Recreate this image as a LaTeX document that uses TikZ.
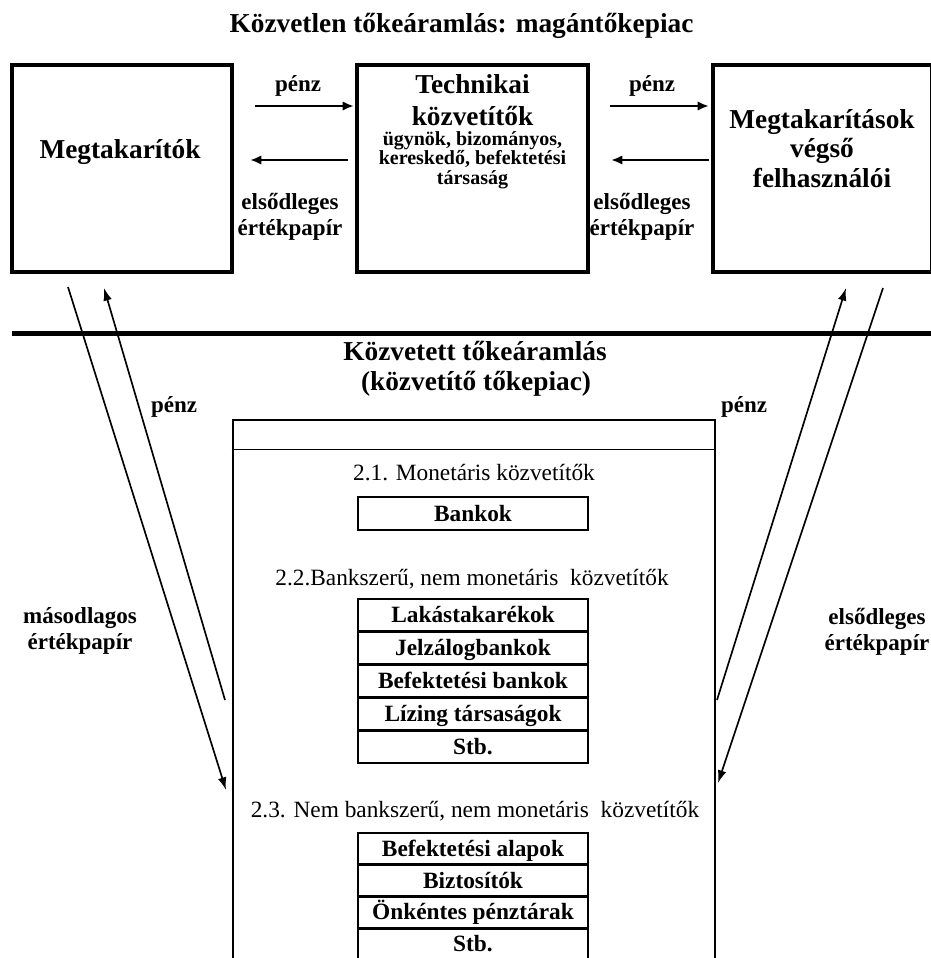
\documentclass[tikz,border=0pt]{standalone}
\usepackage{fontspec}
\setmainfont{Liberation Serif}
\usetikzlibrary{arrows.meta}
\begin{document}
\begin{tikzpicture}[x=0.75pt,y=-0.75pt,
  bigtxt/.style={font=\fontsize{20.5}{24}\selectfont\bfseries, inner sep=0pt, anchor=base},
  lbl/.style={font=\fontsize{17.25}{20}\selectfont\bfseries, inner sep=0pt, anchor=base},
  subtxt/.style={font=\fontsize{15}{18}\selectfont\bfseries, inner sep=0pt, anchor=base},
  head/.style={font=\fontsize{17.5}{21}\selectfont, inner sep=0pt, anchor=base},
  topbox/.style={draw, line width=2.5pt, inner sep=0pt, minimum height=155.25pt},
  cell/.style={draw, line width=2.2pt, minimum width=172.5pt, inner sep=0pt,
    font=\fontsize{17.5}{21}\selectfont\bfseries, text height=15pt, text depth=3.75pt},
  harrow/.style={line width=1.7pt, -{Latex[length=8.5pt,width=7pt]}},
  darrow/.style={line width=1.25pt, -{Latex[length=9.5pt,width=6.5pt]}}]
\path[use as bounding box] (0,0) rectangle (931,958);
\clip (0,0) rectangle (931,958);

% title
\node[bigtxt] (title) at (461.5,32) {Közvetlen tőkeáramlás: magántőkepiac};

% top boxes
\node[topbox, minimum width=165pt] (megt) at (122,168.5) {};
\node[topbox, minimum width=173.25pt] (tech) at (472.5,168.5) {};
\node[topbox, minimum width=164.25pt] (vegs) at (822.5,168.5) {};

\node[bigtxt] (megtT) at (120,158) {Megtakarítók};
\node[bigtxt] (techT1) at (472.5,93) {Technikai};
\node[bigtxt] (techT2) at (472.5,125) {közvetítők};
\node[subtxt] (techS1) at (472.5,145) {ügynök, bizományos,};
\node[subtxt] (techS2) at (472.5,164.5) {kereskedő, befektetési};
\node[subtxt] (techS3) at (472.5,184) {társaság};
\node[bigtxt] (vegsT1) at (822,128) {Megtakarítások};
\node[bigtxt] (vegsT2) at (822,157.5) {végső};
\node[bigtxt] (vegsT3) at (822,187) {felhasználói};

% horizontal arrows
\coordinate (h1a) at (255,106); \coordinate (h1b) at (354,106);
\coordinate (h2a) at (348,160); \coordinate (h2b) at (250,160);
\coordinate (h3a) at (610,106); \coordinate (h3b) at (709,106);
\coordinate (h4a) at (709,160); \coordinate (h4b) at (611,160);
\draw[harrow] (h1a) -- (h1b);
\draw[harrow] (h2a) -- (h2b);
\draw[harrow] (h3a) -- (h3b);
\draw[harrow] (h4a) -- (h4b);
\node[lbl] (p1) at (298,91) {pénz};
\node[lbl] (p2) at (652,91) {pénz};
\node[lbl] (e1a) at (290,209) {elsődleges};
\node[lbl] (e1b) at (290,235) {értékpapír};
\node[lbl] (e2a) at (642,209) {elsődleges};
\node[lbl] (e2b) at (642,235) {értékpapír};

% separator
\coordinate (sepL) at (12,333); \coordinate (sepR) at (940,333);
\draw[line width=3.75pt] (sepL) -- (sepR);

\node[bigtxt] (kozv1) at (475,360) {Közvetett tőkeáramlás};
\node[bigtxt] (kozv2) at (476,390) {(közvetítő tőkepiac)};

% big box
\node[draw, line width=2.1pt, inner sep=0pt, minimum width=361.5pt, minimum height=416.25pt] (inter) at (474,697.5) {};
\draw[line width=1.2pt] ([yshift=-23.25pt]inter.north west) -- ([yshift=-23.25pt]inter.north east);

\node[head] (h21) at (474,480) {2.1. Monetáris közvetítők};
\node[cell, minimum height=24.75pt] (bank) at (473,513.5) {Bankok};

\node[head] (h22) at (472,585) {2.2.Bankszerű, nem monetáris\ \ közvetítők};
\node[cell, minimum height=24.6pt] (r1) at (473,615.4) {Lakástakarékok};
\node[cell, minimum height=24.6pt] (r2) at (473,648.2) {Jelzálogbankok};
\node[cell, minimum height=24.6pt] (r3) at (473,681.0) {Befektetési bankok};
\node[cell, minimum height=24.6pt] (r4) at (473,713.8) {Lízing társaságok};
\node[cell, minimum height=24.6pt] (r5) at (473,746.6) {Stb.};

\node[head] (h23) at (475,817) {2.3. Nem bankszerű, nem monetáris\ \ közvetítők};
\node[cell, minimum height=23.8pt] (s1) at (473,848.85) {Befektetési alapok};
\node[cell, minimum height=23.8pt] (s2) at (473,880.55) {Biztosítók};
\node[cell, minimum height=23.8pt] (s3) at (473,912.25) {Önkéntes pénztárak};
\node[cell, minimum height=23.8pt] (s4) at (473,943.95) {Stb.};

% diagonal arrows
\coordinate (a1s) at (68,287);  \coordinate (a1e) at (226,790);
\coordinate (a2s) at (225,700); \coordinate (a2e) at (104,288);
\coordinate (a3s) at (717,700); \coordinate (a3e) at (846,288);
\coordinate (a4s) at (883,288); \coordinate (a4e) at (718,783);
\draw[darrow] (a1s) -- (a1e);
\draw[darrow] (a2s) -- (a2e);
\draw[darrow] (a3s) -- (a3e);
\draw[darrow] (a4s) -- (a4e);

\node[lbl] (p3) at (174,412) {pénz};
\node[lbl] (p4) at (744,412) {pénz};
\node[lbl] (m1) at (80,623) {másodlagos};
\node[lbl] (m2) at (80,649) {értékpapír};
\node[lbl] (e3a) at (877,624) {elsődleges};
\node[lbl] (e3b) at (877,650) {értékpapír};
\end{tikzpicture}
\end{document}
